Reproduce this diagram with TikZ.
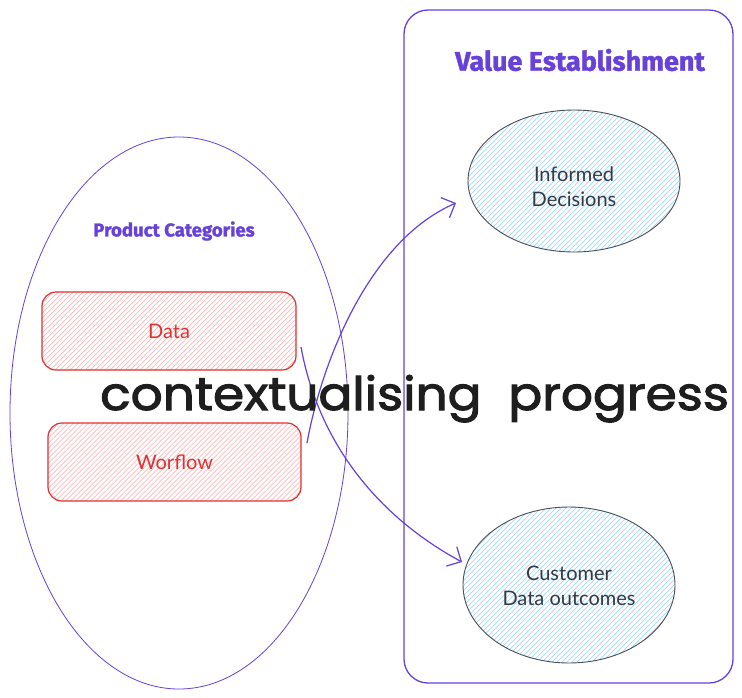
\documentclass[tikz,border=0pt]{standalone}
\usepackage{fontspec}
\setmainfont{Lato}
\newfontfamily\titlefont[BoldFeatures={FakeBold=1.5}]{Fira Sans}
\newfontfamily\handfont[FakeBold=2.2]{Poppins}
\usetikzlibrary{shapes.geometric,arrows.meta}
\definecolor{violet}{HTML}{6741D9}
\definecolor{redline}{HTML}{E03131}
\definecolor{redhatch}{HTML}{FFB8B8}
\definecolor{bluehatch}{HTML}{A5D8FF}
\definecolor{darkline}{HTML}{495057}
\definecolor{labelgray}{HTML}{343A40}
\definecolor{inkblack}{HTML}{1E1E1E}
\tikzset{
  hatch/.style={path picture={
    \foreach \k in {-300,-295,...,300}
      \draw[#1, line width=0.7pt]
        ([xshift=\k pt]path picture bounding box.center) ++(-200pt,-200pt) -- ++(400pt,400pt);
  }},
  catbox/.style={draw=redline, line width=1.2pt, rounded corners=14pt, inner sep=0pt,
    hatch=redhatch, text=redline, font=\fontsize{20}{24}\selectfont},
  valell/.style={ellipse, draw=darkline, line width=0.9pt, inner sep=0pt, hatch=bluehatch},
  vallabel/.style={align=center, text=labelgray, font=\fontsize{20}{25}\selectfont},
  arr/.style={draw=violet, line width=1.2pt, -{Straight Barb[length=11pt,width=22pt,line width=1.2pt]}},
  heading/.style={text=violet}
}
\begin{document}
\begin{tikzpicture}[x=1pt,y=-1pt]
\useasboundingbox (0,0) rectangle (742,697);
\fill[white] (0,0) rectangle (742,697);
% left ellipse
\node[ellipse, draw=violet, line width=0.8pt, minimum width=338pt, minimum height=552pt, inner sep=0pt] (bigell) at (179,413) {};
% right frame
\draw[violet, line width=1.3pt, rounded corners=24pt] (404,10) rectangle (733,683);
\node[heading, font=\titlefont\bfseries\fontsize{27}{30}\selectfont] (title) at (580,60) {Value Establishment};
\node[heading, font=\titlefont\bfseries\fontsize{18.6}{22}\selectfont] (cattitle) at (174,231) {Product Categories};
% category boxes
\node[catbox, minimum width=254pt, minimum height=78pt] (data) at (169,331) {Data};
\node[catbox, minimum width=253pt, minimum height=78pt] (worflow) at (174.5,462) {Worflow};
% value ellipses
\node[valell, minimum width=212pt, minimum height=142pt] (inf) at (574,181) {};
\node[vallabel] (inflabel) at (574,187) {Informed\\Decisions};
\node[valell, minimum width=212pt, minimum height=156pt] (cust) at (569,585) {};
\node[vallabel] (custlabel) at (569,586) {Customer\\Data outcomes};
% arrows
\coordinate (s1) at (301,347);
\coordinate (e1) at (462,562);
\coordinate (s2) at (307,443);
\coordinate (e2) at (456,203);
\draw[arr] (s1) .. controls (318,440) and (375,515) .. (e1);
\draw[arr] (s2) .. controls (322,360) and (370,240) .. (e2);
% overlay text
\node[text=inkblack, font=\handfont\fontsize{46}{50}\selectfont, anchor=base west, inner sep=0pt] (ctx) at (100,410) {\scalebox{1.09}[1]{contextualising\ \ progress}};
\end{tikzpicture}
\end{document}
